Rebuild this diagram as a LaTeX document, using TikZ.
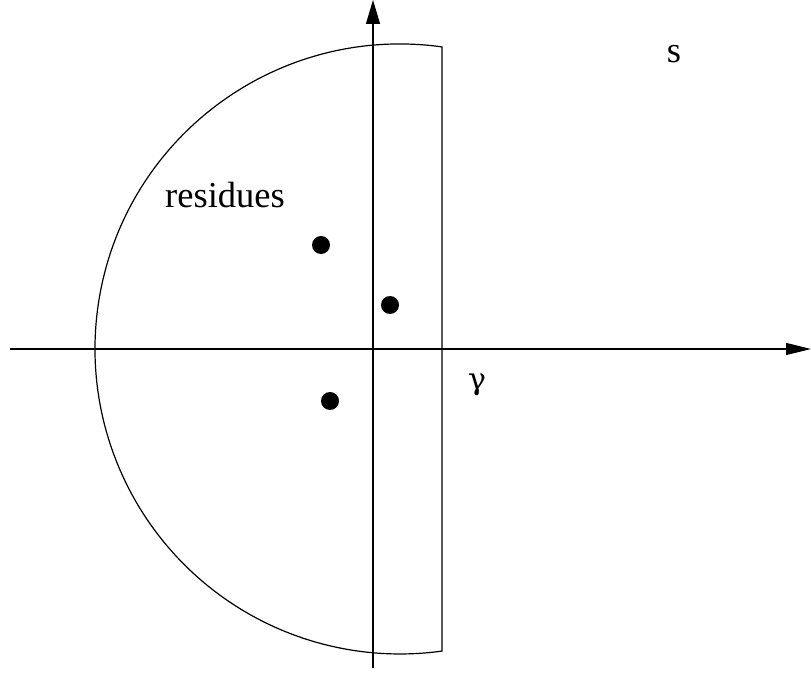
\documentclass[tikz,border=0pt]{standalone}
\usepackage{fontspec}
\setmainfont{Liberation Serif}
\newfontfamily\gammafont{DejaVu Serif}
\usetikzlibrary{arrows.meta}
\begin{document}
\begin{tikzpicture}[x=1pt,y=1pt,
  axis/.style={line width=1.2pt},
  contour/.style={line width=1.2pt},
  pole/.style={circle,fill=black,inner sep=0pt,minimum size=18pt},
  lbl/.style={inner sep=0pt,font=\fontsize{36.5}{40}\selectfont}]
\useasboundingbox (0,0) rectangle (811,675);
% axes
\coordinate (xl) at (10,326);
\coordinate (xr) at (811,326);
\coordinate (yb) at (373,7);
\coordinate (yt) at (373,675);
\draw[axis,-{Triangle[length=25pt,width=12pt]}] (xl) -- (xr);
\draw[axis,-{Triangle[length=24pt,width=14pt]}] (yb) -- (yt);
% contour
\coordinate (ctop) at (442,628.1);
\coordinate (cbot) at (442,23.9);
\draw[contour] (ctop) arc[start angle=82.08,end angle=277.92,radius=305pt] -- cycle;
% poles
\node[pole] (p1) at (321,430) {};
\node[pole] (p2) at (390,370) {};
\node[pole] (p3) at (330,274) {};
% labels
\node[lbl,anchor=base] (res) at (225,467) {residues};
\node[lbl,anchor=base] (s) at (674,612) {s};
\node[inner sep=0pt,font=\gammafont\fontsize{30}{34}\selectfont] (g) at (477,290) {γ};
\end{tikzpicture}
\end{document}
